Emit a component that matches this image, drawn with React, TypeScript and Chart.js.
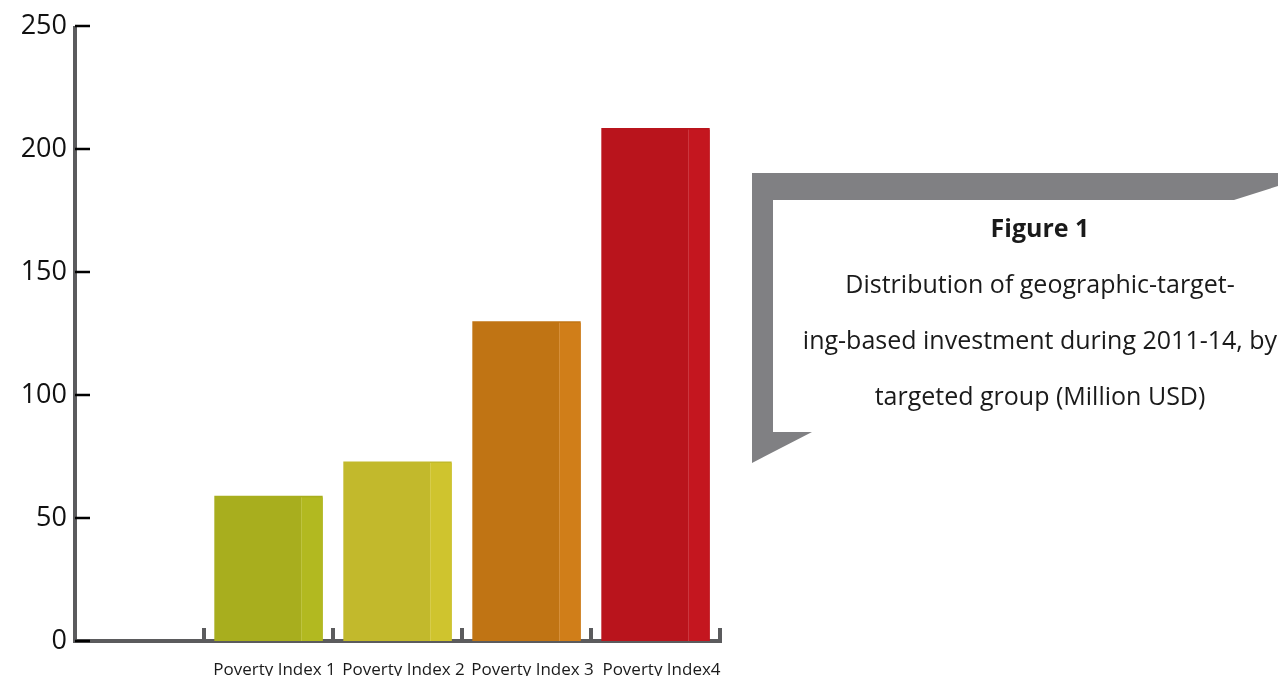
import React, { useEffect, useRef } from "react";
import { Chart, registerables } from "chart.js";

Chart.register(...registerables);

const categories = ["", "Poverty Index 1", "Poverty Index 2", "Poverty Index 3", "Poverty Index4"];
const investment = [null, 59, 73, 130, 208.5];
const frontColors = ["#a8ae1e", "#a8ae1e", "#c2b92c", "#c07414", "#b9141c"];
const sideColors = ["#b2b920", "#b2b920", "#cfc42e", "#d07e19", "#c4161f"];
const yTicks = [0, 50, 100, 150, 200, 250];

const figureTitle = "Figure 1";
const figureLines = [
  "Distribution of geographic-target-",
  "ing-based investment during 2011-14, by",
  "targeted group (Million USD)",
];

const FONT = "'Open Sans', 'Noto Sans', sans-serif";

const axesPlugin = {
  id: "customAxes",
  beforeDatasetsDraw(chart: any) {
    const { ctx, chartArea, scales } = chart;
    const x = scales.x;
    const y = scales.y;
    const left = chartArea.left;
    const bottom = y.getPixelForValue(0);
    const top = y.getPixelForValue(250);
    const right = chartArea.right;
    ctx.save();
    ctx.fillStyle = "#5b5b5d";
    ctx.fillRect(left - 2, top, 4, bottom - top + 2);
    ctx.fillRect(left - 2, bottom - 2, right - left + 4, 4);
    const n = categories.length;
    for (let i = 1; i <= n; i++) {
      const px = i < n ? (x.getPixelForValue(i - 1) + x.getPixelForValue(i)) / 2 : right;
      ctx.fillRect(px - 2, bottom - 13, 4, 13);
    }
    ctx.fillStyle = "#000";
    yTicks.forEach((v) => {
      const py = y.getPixelForValue(v);
      ctx.fillRect(left, py - 1.25, 15, 2.5);
    });
    ctx.restore();
  },
  afterDatasetsDraw(chart: any) {
    const { ctx } = chart;
    const meta = chart.getDatasetMeta(0);
    ctx.save();
    meta.data.forEach((bar: any, i: number) => {
      if (investment[i] == null) return;
      const { x, y, base, width } = bar.getProps(["x", "y", "base", "width"], true);
      const r = x + width / 2;
      const sw = width * 0.2;
      ctx.fillStyle = sideColors[i];
      ctx.fillRect(r - sw, y + 1.5, sw, base - y - 1.5);
      ctx.fillStyle = "rgba(255,255,255,0.15)";
      ctx.fillRect(r - sw, y + 1.5, 1, base - y - 1.5);
    });
    ctx.restore();
  },
};

export default function App() {
  const ref = useRef<HTMLCanvasElement | null>(null);

  useEffect(() => {
    document.body.style.margin = "0";
    const canvas = ref.current;
    if (!canvas) return;
    const chart = new Chart(canvas, {
      type: "bar",
      data: {
        labels: categories,
        datasets: [
          {
            data: investment as any,
            backgroundColor: frontColors,
            borderWidth: 0,
            categoryPercentage: 1,
            barPercentage: 0.84,
          },
        ],
      },
      options: {
        responsive: false,
        maintainAspectRatio: false,
        animation: false,
        layout: { padding: { left: 0, top: 26, right: 558, bottom: 0 } },
        plugins: {
          legend: { display: false },
          tooltip: { enabled: false },
          title: { display: false },
        },
        scales: {
          x: {
            grid: { display: false },
            border: { display: false },
            afterFit: (s: any) => {
              s.height = 35;
            },
            ticks: {
              font: { family: FONT, size: 17 },
              color: "#1a1a1a",
              padding: 11,
              labelOffset: 6,
              maxRotation: 0,
              autoSkip: false,
            },
          },
          y: {
            min: 0,
            max: 250,
            grid: { display: false },
            border: { display: false },
            afterFit: (s: any) => {
              s.width = 75;
            },
            ticks: {
              stepSize: 50,
              font: { family: FONT, size: 27 },
              color: "#111",
              padding: 0,
            },
          },
        },
      },
      plugins: [axesPlugin],
    });
    return () => chart.destroy();
  }, []);

  const textCenters = [283, 339, 395];

  return (
    <div style={{ position: "relative", width: 1278, height: 676, overflow: "hidden", background: "#fff" }}>
      <canvas ref={ref} width={1278} height={676} style={{ position: "absolute", left: 0, top: 0 }} />
      <svg
        width={1278}
        height={676}
        style={{ position: "absolute", left: 0, top: 0, pointerEvents: "none" }}
      >
        <polygon
          points="752,173 1278,173 1278,186 1234,200 773,200 773,432 812,432 752,463"
          fill="#808083"
        />
      </svg>
      <div
        style={{
          position: "absolute",
          left: 740,
          width: 600,
          top: 227 - 20,
          height: 40,
          lineHeight: "40px",
          textAlign: "center",
          fontFamily: FONT,
          fontSize: 25,
          fontWeight: 700,
          color: "#1a1a1a",
        }}
      >
        {figureTitle}
      </div>
      {figureLines.map((l, i) => (
        <div
          key={l}
          style={{
            position: "absolute",
            left: 740,
            width: 600,
            top: textCenters[i] - 20,
            height: 40,
            lineHeight: "40px",
            textAlign: "center",
            whiteSpace: "nowrap",
            fontFamily: FONT,
            fontSize: 25,
            color: "#1a1a1a",
          }}
        >
          {l}
        </div>
      ))}
    </div>
  );
}
